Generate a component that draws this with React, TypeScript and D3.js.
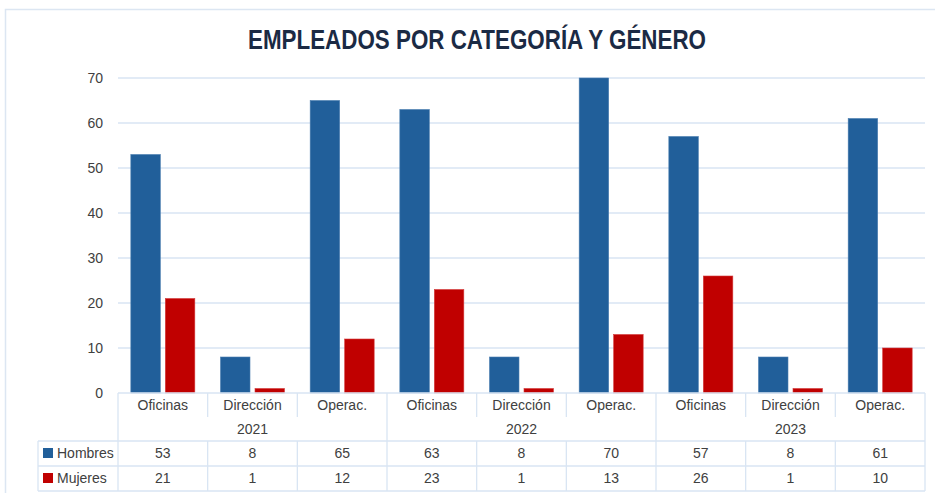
import * as d3 from "d3";

const years = ["2021", "2022", "2023"];
const categories = ["Oficinas", "Dirección", "Operac."];
const seriesNames = ["Hombres", "Mujeres"];
const hombres = [53, 8, 65, 63, 8, 70, 57, 8, 61];
const mujeres = [21, 1, 12, 23, 1, 13, 26, 1, 10];
const yTicks = [0, 10, 20, 30, 40, 50, 60, 70];

const W = 935;
const H = 493;
const PLOT = { left: 118, right: 925, top: 78, bottom: 393 };
const TABLE_LEFT = 38;
const ROW = { cat: 405, year: 429, h: 453, m: 478 };
const LINES = { yearBottom: 441, hBottom: 466, mBottom: 491, catSep: 417 };
const COLORS = ["#215F9A", "#C00000"];
const GRID = "#D9E5F3";
const TEXT = "#404040";
const FONT = "'Liberation Sans', Arial, sans-serif";

export default function App() {
  const keys = years.flatMap((y) => categories.map((c) => `${y}|${c}`));
  const values = [hombres, mujeres];

  const x = d3.scaleBand().domain(keys).range([PLOT.left, PLOT.right]);
  const inner = d3
    .scaleBand()
    .domain(seriesNames)
    .range([0, x.bandwidth()])
    .paddingInner(0.145)
    .paddingOuter(0.372);
  const y = d3.scaleLinear().domain([0, 70]).range([PLOT.bottom, PLOT.top]);

  const yearX = (i: number) => x(keys[i * categories.length])!;
  const yearW = x.bandwidth() * categories.length;

  return (
    <div style={{ position: "absolute", left: 0, top: 0 }}>
      <svg width={W} height={H} style={{ display: "block", fontFamily: FONT }}>
        <rect width={W} height={H} fill="#fff" />
        {/* frame */}
        <path d={`M5.5,${H} V9.5 H${W}`} fill="none" stroke="#DCE6F2" strokeWidth={1.5} />

        {/* title: no condensed font available, so squeeze to the reference width */}
        <text
          x={248}
          y={49}
          textLength={458}
          lengthAdjust="spacingAndGlyphs"
          fontFamily="'Liberation Sans', Arial, sans-serif"
          fontWeight="bold"
          fontSize={28}
          fill="#1B2A44"
        >
          EMPLEADOS POR CATEGORÍA Y GÉNERO
        </text>

        {/* grid + y labels */}
        {yTicks.map((t) => (
          <g key={t}>
            {t > 0 && (
              <line x1={PLOT.left} x2={PLOT.right} y1={y(t)} y2={y(t)} stroke={GRID} strokeWidth={1.3} />
            )}
            <text x={103} y={y(t)} dy="0.35em" textAnchor="end" fontSize={14} fill={TEXT}>
              {t}
            </text>
          </g>
        ))}

        {/* bars */}
        {keys.map((k, i) => (
          <g key={k} transform={`translate(${x(k)},0)`}>
            {seriesNames.map((s, j) => (
              <rect
                key={s}
                x={inner(s)}
                y={y(values[j][i])}
                width={inner.bandwidth()}
                height={y(0) - y(values[j][i])}
                fill={COLORS[j]}
                stroke={j === 0 ? "#4A7DB0" : "#D43A3A"}
                strokeWidth={0.6}
              />
            ))}
          </g>
        ))}

        {/* data table lines */}
        <g stroke={GRID} strokeWidth={1.3} fill="none">
          <line x1={PLOT.left} x2={PLOT.right} y1={PLOT.bottom} y2={PLOT.bottom} />
          <line x1={TABLE_LEFT} x2={PLOT.right} y1={LINES.yearBottom} y2={LINES.yearBottom} />
          <line x1={TABLE_LEFT} x2={PLOT.right} y1={LINES.hBottom} y2={LINES.hBottom} />
          <line x1={TABLE_LEFT} x2={PLOT.right} y1={LINES.mBottom} y2={LINES.mBottom} />
          <line x1={TABLE_LEFT} x2={TABLE_LEFT} y1={LINES.yearBottom} y2={LINES.mBottom} />
          {keys.map((k, i) =>
            i % categories.length === 0 ? null : (
              <g key={k}>
                <line x1={x(k)} x2={x(k)} y1={PLOT.bottom} y2={LINES.catSep} />
                <line x1={x(k)} x2={x(k)} y1={LINES.yearBottom} y2={LINES.mBottom} />
              </g>
            )
          )}
          {[...years.map((_, i) => yearX(i)), PLOT.right].map((px, i) => (
            <line key={i} x1={px} x2={px} y1={PLOT.bottom} y2={LINES.mBottom} />
          ))}
        </g>

        {/* table text */}
        <g fontSize={14} fill={TEXT} textAnchor="middle">
          {keys.map((k, i) => {
            const cx = x(k)! + x.bandwidth() / 2;
            return (
              <g key={k}>
                <text x={cx} y={ROW.cat} dy="0.35em">
                  {categories[i % categories.length]}
                </text>
                <text x={cx} y={ROW.h} dy="0.35em">
                  {hombres[i]}
                </text>
                <text x={cx} y={ROW.m} dy="0.35em">
                  {mujeres[i]}
                </text>
              </g>
            );
          })}
          {years.map((yr, i) => (
            <text key={yr} x={yearX(i) + yearW / 2} y={ROW.year} dy="0.35em">
              {yr}
            </text>
          ))}
        </g>

        {/* legend keys */}
        {seriesNames.map((s, j) => {
          const cy = j === 0 ? ROW.h : ROW.m;
          return (
            <g key={s}>
              <rect x={43} y={cy - 5} width={10} height={10} fill={COLORS[j]} />
              <text x={57} y={cy} dy="0.35em" fontSize={14} fill={TEXT}>
                {s}
              </text>
            </g>
          );
        })}
      </svg>
    </div>
  );
}
